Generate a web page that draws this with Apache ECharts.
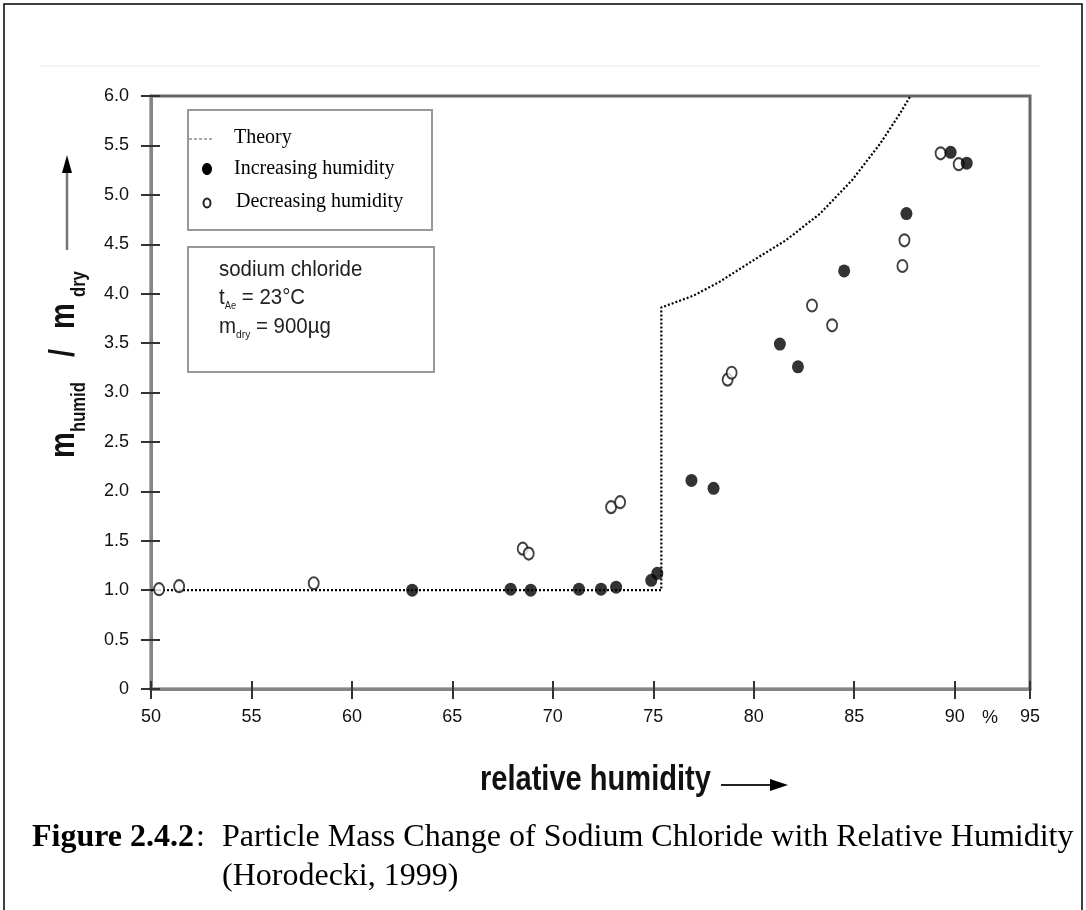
<!DOCTYPE html>
<html>
<head>
<meta charset="utf-8">
<title>Particle Mass Change of Sodium Chloride with Relative Humidity</title>
<script src="https://cdn.jsdelivr.net/npm/echarts@6/dist/echarts.min.js"></script>
<style>
  html, body { margin: 0; padding: 0; background: #fff; }
  #chart { width: 1086px; height: 910px; }
</style>
</head>
<body>
<div id="chart"></div>
<script>
// Relative humidity (%) and mass ratio m_humid / m_dry
const rhIncreasing    = [63.0, 67.9, 68.9, 71.3, 72.4, 73.15, 74.9, 75.2, 76.9, 78.0, 81.3, 82.2, 84.5, 87.6, 89.8, 90.6];
const ratioIncreasing = [1.00, 1.01, 1.00, 1.01, 1.01, 1.03, 1.10, 1.17, 2.11, 2.03, 3.49, 3.26, 4.23, 4.81, 5.43, 5.32];

const rhDecreasing    = [50.4, 51.4, 58.1, 68.5, 68.8, 72.9, 73.35, 78.7, 78.9, 82.9, 83.9, 87.4, 87.5, 89.3, 90.2];
const ratioDecreasing = [1.01, 1.04, 1.07, 1.42, 1.37, 1.84, 1.89, 3.13, 3.20, 3.88, 3.68, 4.28, 4.54, 5.42, 5.31];

// Theoretical curve: dry particle up to deliquescence, then solution growth
const rhTheory    = [50, 75.4, 75.4, 77.0, 78.3, 80.0, 81.6, 83.3, 84.9, 86.3, 87.3, 87.8];
const ratioTheory = [1.0, 1.0, 3.86, 3.98, 4.12, 4.34, 4.54, 4.81, 5.15, 5.52, 5.83, 6.0];

const xTickLabels = ['50', '55', '60', '65', '70', '75', '80', '85', '90', '95'];
const yTickLabels = ['0', '0.5', '1.0', '1.5', '2.0', '2.5', '3.0', '3.5', '4.0', '4.5', '5.0', '5.5', '6.0'];

const pairs = (xs, ys) => xs.map((x, i) => [x, ys[i]]);

const SANS = '"Liberation Sans", Arial, Helvetica, sans-serif';
const SERIF = '"Liberation Serif", "Times New Roman", serif';
const AXIS_GREY = '#858585';
const TICK = { color: '#333', width: 2 };

const chart = echarts.init(document.getElementById('chart'), null, { renderer: 'canvas' });

const legendBox = { x: 188, y: 110, w: 244, h: 120 };
const infoBox = { x: 188, y: 247, w: 246, h: 125 };

const option = {
  animation: false,
  backgroundColor: '#fff',
  grid: {
    left: 151, right: 56, top: 96, bottom: 221,
    show: true, borderColor: '#666', borderWidth: 3, backgroundColor: 'transparent'
  },
  xAxis: [
    {
      type: 'value', min: 50, max: 93.75, interval: 5,
      axisLine: { show: true, onZero: false, lineStyle: { color: AXIS_GREY, width: 3 } },
      axisTick: { show: true, length: 10, lineStyle: TICK },
      axisLabel: {
        margin: 19, fontSize: 18, color: '#111', fontFamily: SANS,
        formatter: (v, i) => xTickLabels[i]
      },
      splitLine: { show: false }
    },
    {
      type: 'value', min: 50, max: 93.75, interval: 5, position: 'bottom',
      axisLine: { show: false },
      axisTick: { show: true, inside: true, length: 8, lineStyle: TICK },
      axisLabel: { show: false },
      splitLine: { show: false }
    }
  ],
  yAxis: [
    {
      type: 'value', min: 0, max: 6, interval: 0.5,
      axisLine: { show: true, onZero: false, lineStyle: { color: AXIS_GREY, width: 3 } },
      axisTick: { show: true, length: 10, lineStyle: TICK },
      axisLabel: {
        margin: 22, fontSize: 18, color: '#111', fontFamily: SANS,
        formatter: (v, i) => yTickLabels[i]
      },
      splitLine: { show: false }
    },
    {
      type: 'value', min: 0, max: 6, interval: 0.5, position: 'left',
      axisLine: { show: false },
      axisTick: { show: true, inside: true, length: 9, lineStyle: TICK },
      axisLabel: { show: false },
      splitLine: { show: false }
    }
  ],
  series: [
    {
      name: 'Theory', type: 'line', xAxisIndex: 0, yAxisIndex: 0,
      data: pairs(rhTheory, ratioTheory),
      symbol: 'none', clip: true, z: 2,
      lineStyle: { color: '#000', width: 2.2, type: [2, 2] }
    },
    {
      name: 'Decreasing humidity', type: 'scatter', xAxisIndex: 0, yAxisIndex: 0,
      data: pairs(rhDecreasing, ratioDecreasing),
      symbol: 'circle', symbolSize: [10, 12], z: 3,
      itemStyle: { color: '#fff', borderColor: '#111', borderWidth: 2 }
    },
    {
      name: 'Increasing humidity', type: 'scatter', xAxisIndex: 0, yAxisIndex: 0,
      data: pairs(rhIncreasing, ratioIncreasing),
      symbol: 'circle', symbolSize: [12, 13], z: 4,
      itemStyle: { color: '#000' }
    }
  ],
  graphic: [
    // outer frame and faint rule
    { type: 'rect', shape: { x: 4, y: 4, width: 1078, height: 930 },
      style: { fill: 'none', stroke: '#000', lineWidth: 1.5 }, silent: true },
    { type: 'line', shape: { x1: 40, y1: 66, x2: 1040, y2: 66 },
      style: { stroke: '#e8e8e8', lineWidth: 1 }, silent: true },

    // legend box
    { type: 'rect', shape: { x: legendBox.x, y: legendBox.y, width: legendBox.w, height: legendBox.h },
      style: { fill: '#fff', stroke: '#999', lineWidth: 2 }, z: 10 },
    { type: 'line', shape: { x1: 189, y1: 139, x2: 213, y2: 139 },
      style: { stroke: '#555', lineWidth: 1, lineDash: [3, 2] }, z: 11 },
    { type: 'text', x: 234, y: 138, z: 11,
      style: { text: 'Theory', font: '20px ' + SERIF, fill: '#000', verticalAlign: 'middle' } },
    { type: 'ellipse', shape: { cx: 207, cy: 169, rx: 5, ry: 6 },
      style: { fill: '#000' }, z: 11 },
    { type: 'text', x: 234, y: 169, z: 11,
      style: { text: 'Increasing humidity', font: '20px ' + SERIF, fill: '#000', verticalAlign: 'middle' } },
    { type: 'ellipse', shape: { cx: 207, cy: 203, rx: 3.5, ry: 4.5 },
      style: { fill: '#fff', stroke: '#222', lineWidth: 2 }, z: 11 },
    { type: 'text', x: 236, y: 202, z: 11,
      style: { text: 'Decreasing humidity', font: '20px ' + SERIF, fill: '#000', verticalAlign: 'middle' } },

    // sample description box
    { type: 'rect', shape: { x: infoBox.x, y: infoBox.y, width: infoBox.w, height: infoBox.h },
      style: { fill: '#fff', stroke: '#999', lineWidth: 2 }, z: 10 },
    { type: 'text', x: 219, y: 270, z: 11, scaleX: 0.93,
      style: { text: 'sodium chloride', font: '22px ' + SANS, fill: '#222', verticalAlign: 'middle' } },
    { type: 'text', x: 219, y: 298, z: 11, scaleX: 0.93,
      style: {
        text: '{n|t}{s|Ae}{n| = 23°C}', verticalAlign: 'middle',
        rich: {
          n: { font: '22px ' + SANS, fill: '#222', lineHeight: 26 },
          s: { font: '10px ' + SANS, fill: '#222', lineHeight: 12, verticalAlign: 'bottom' }
        }
      } },
    { type: 'text', x: 219, y: 327, z: 11, scaleX: 0.93,
      style: {
        text: '{n|m}{s|dry}{n| = 900µg}', verticalAlign: 'middle',
        rich: {
          n: { font: '22px ' + SANS, fill: '#222', lineHeight: 26 },
          s: { font: '11px ' + SANS, fill: '#222', lineHeight: 12, verticalAlign: 'bottom' }
        }
      } },

    // y-axis title, read bottom to top, with arrow
    { type: 'text', x: 64, y: 458, rotation: Math.PI / 2, scaleX: 0.83,
      style: { text: 'm', font: 'bold 35px ' + SANS, fill: '#111', verticalAlign: 'middle' } },
    { type: 'text', x: 79, y: 432, rotation: Math.PI / 2, scaleX: 0.83,
      style: { text: 'humid', font: 'bold 20px ' + SANS, fill: '#111', verticalAlign: 'middle' } },
    { type: 'text', x: 64, y: 357, rotation: Math.PI / 2, scaleX: 0.83,
      style: { text: '/', font: 'bold 35px ' + SANS, fill: '#111', verticalAlign: 'middle' } },
    { type: 'text', x: 64, y: 329, rotation: Math.PI / 2, scaleX: 0.83,
      style: { text: 'm', font: 'bold 35px ' + SANS, fill: '#111', verticalAlign: 'middle' } },
    { type: 'text', x: 79, y: 297, rotation: Math.PI / 2, scaleX: 0.83,
      style: { text: 'dry', font: 'bold 20px ' + SANS, fill: '#111', verticalAlign: 'middle' } },
    { type: 'line', shape: { x1: 67, y1: 250, x2: 67, y2: 170 },
      style: { stroke: '#777', lineWidth: 2.5 } },
    { type: 'polygon', shape: { points: [[67, 155], [62, 173], [72, 173]] },
      style: { fill: '#000' } },

    // x-axis title with arrow and unit
    { type: 'text', x: 480, y: 780, scaleX: 0.83,
      style: { text: 'relative humidity', font: 'bold 35px ' + SANS, fill: '#111', verticalAlign: 'middle' } },
    { type: 'line', shape: { x1: 721, y1: 785, x2: 772, y2: 785 },
      style: { stroke: '#222', lineWidth: 2 } },
    { type: 'polygon', shape: { points: [[788, 785], [770, 779], [770, 791]] },
      style: { fill: '#000' } },
    { type: 'text', x: 990, y: 718,
      style: { text: '%', font: '18px ' + SANS, fill: '#111', align: 'center', verticalAlign: 'middle' } },

    // caption
    { type: 'text', x: 32, y: 838,
      style: { text: 'Figure 2.4.2', font: 'bold 32px ' + SERIF, fill: '#000', verticalAlign: 'middle' } },
    { type: 'text', x: 196, y: 838,
      style: { text: ':', font: '32px ' + SERIF, fill: '#000', verticalAlign: 'middle' } },
    { type: 'text', x: 222, y: 838,
      style: { text: 'Particle Mass Change of Sodium Chloride with Relative Humidity', font: '32px ' + SERIF, fill: '#000', verticalAlign: 'middle' } },
    { type: 'text', x: 222, y: 877,
      style: { text: '(Horodecki, 1999)', font: '32px ' + SERIF, fill: '#000', verticalAlign: 'middle' } }
  ]
};

chart.setOption(option);
</script>
</body>
</html>
